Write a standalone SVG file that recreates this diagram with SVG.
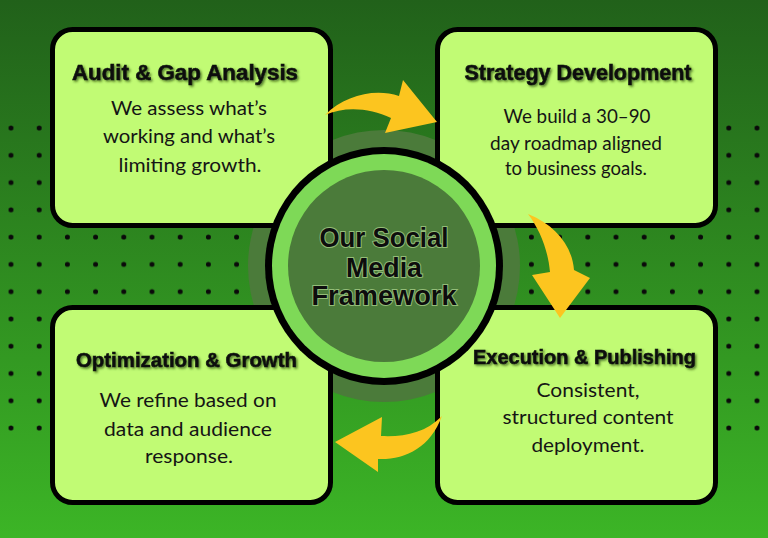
<svg xmlns="http://www.w3.org/2000/svg" width="768" height="538" viewBox="0 0 768 538">
  <defs>
    <linearGradient id="bg" x1="0" y1="0" x2="0" y2="1">
      <stop offset="0" stop-color="#21611a"/>
      <stop offset="1" stop-color="#3cb526"/>
    </linearGradient>
    <pattern id="dotsL" patternUnits="userSpaceOnUse" x="-3.1" y="114.36" width="28.2" height="27.27">
      <circle cx="14.1" cy="13.64" r="2.5" fill="#0a0a0a"/>
    </pattern>
    <pattern id="dotsR" patternUnits="userSpaceOnUse" x="742.9" y="114.36" width="28.2" height="27.27">
      <circle cx="14.1" cy="13.64" r="2.5" fill="#0a0a0a"/>
    </pattern>
    <filter id="shadow" x="-10%" y="-30%" width="120%" height="160%">
      <feDropShadow dx="1.5" dy="1.5" stdDeviation="0.8" flood-color="#2b4a10" flood-opacity="0.75"/>
    </filter>
    <style>
      .box { fill: #c1fb74; stroke: #000; stroke-width: 5; }
      .title { font-family: "Liberation Sans", Arial, sans-serif; font-weight: bold; fill: #111; stroke: #111; stroke-width: 0.6; text-anchor: middle; filter: url(#shadow); }
      .body { font-family: Lato, "Open Sans", sans-serif; font-size: 18.5px; fill: #151515; text-anchor: middle; }
      .center { font-family: "Liberation Sans", Arial, sans-serif; font-weight: bold; font-size: 27px; fill: #0d0d0d; text-anchor: middle; paint-order: stroke; stroke: #93bd78; stroke-width: 2; }
      .arrow { fill: #fcc51f; }
    </style>
  </defs>

  <rect x="0" y="0" width="768" height="538" fill="url(#bg)"/>
  <rect x="0" y="114" width="250" height="328" fill="url(#dotsL)"/>
  <rect x="515" y="114" width="253" height="328" fill="url(#dotsR)"/>

  <circle id="halo" cx="384" cy="266" r="136" fill="#4b7b3a"/>

  <g id="box-audit">
    <rect class="box" x="52.5" y="29.5" width="278" height="196" rx="20"/>
    <text class="title" x="185" y="80" font-size="22" textLength="226" lengthAdjust="spacingAndGlyphs">Audit &amp; Gap Analysis</text>
    <text class="body" x="189" y="115" textLength="156" lengthAdjust="spacingAndGlyphs">We assess what’s</text>
    <text class="body" x="189" y="143" textLength="172" lengthAdjust="spacingAndGlyphs">working and what’s</text>
    <text class="body" x="190" y="171.5" textLength="143" lengthAdjust="spacingAndGlyphs">limiting growth.</text>
  </g>

  <g id="box-strategy">
    <rect class="box" x="437.5" y="29.5" width="278" height="196" rx="20"/>
    <text class="title" x="578" y="80" font-size="21.5" textLength="227" lengthAdjust="spacingAndGlyphs">Strategy Development</text>
    <text class="body" x="577" y="123" textLength="147" lengthAdjust="spacingAndGlyphs">We build a 30–90</text>
    <text class="body" x="576" y="149.5" textLength="172" lengthAdjust="spacingAndGlyphs">day roadmap aligned</text>
    <text class="body" x="576" y="175" textLength="142" lengthAdjust="spacingAndGlyphs">to business goals.</text>
  </g>

  <g id="box-optimization">
    <rect class="box" x="52.5" y="307.5" width="278" height="195" rx="20"/>
    <text class="title" x="186.5" y="367" font-size="20" textLength="221" lengthAdjust="spacingAndGlyphs">Optimization &amp; Growth</text>
    <text class="body" x="188" y="407" textLength="177" lengthAdjust="spacingAndGlyphs">We refine based on</text>
    <text class="body" x="188" y="436" textLength="168" lengthAdjust="spacingAndGlyphs">data and audience</text>
    <text class="body" x="189" y="463" textLength="88" lengthAdjust="spacingAndGlyphs">response.</text>
  </g>

  <g id="box-execution">
    <rect class="box" x="437.5" y="307.5" width="278" height="195" rx="20"/>
    <text class="title" x="584.5" y="364" font-size="20" textLength="223" lengthAdjust="spacingAndGlyphs">Execution &amp; Publishing</text>
    <text class="body" x="588" y="396.5" textLength="103" lengthAdjust="spacingAndGlyphs">Consistent,</text>
    <text class="body" x="588" y="424" textLength="171" lengthAdjust="spacingAndGlyphs">structured content</text>
    <text class="body" x="588" y="451.5" textLength="113" lengthAdjust="spacingAndGlyphs">deployment.</text>
  </g>

  <g id="center">
    <circle cx="384" cy="266" r="119" fill="#000"/>
    <circle cx="384" cy="266" r="112" fill="#7ed957"/>
    <circle cx="384" cy="266" r="96" fill="#4b7b3a"/>
    <text class="center" x="384" y="246.5" textLength="129" lengthAdjust="spacingAndGlyphs">Our Social</text>
    <text class="center" x="384" y="276.5" textLength="76" lengthAdjust="spacingAndGlyphs">Media</text>
    <text class="center" x="384" y="305" textLength="145" lengthAdjust="spacingAndGlyphs">Framework</text>
  </g>

  <g id="connectors">
    <path class="arrow" d="M325,115 C345,95 375,88 399,96 L403,80 L437,122 L385,133 L391,118 C370,108 345,106 325,115 Z"/>
    <path class="arrow" d="M528,214 C555,225 572,245 574,270 L590,278 L560,318 L532,275 L550,272 C548,250 540,230 528,214 Z"/>
    <path class="arrow" d="M442,416 C425,433 405,437 381,436 L382,417 L335,442 L378,472 L378,459 C405,460 430,448 442,416 Z"/>
  </g>
</svg>
